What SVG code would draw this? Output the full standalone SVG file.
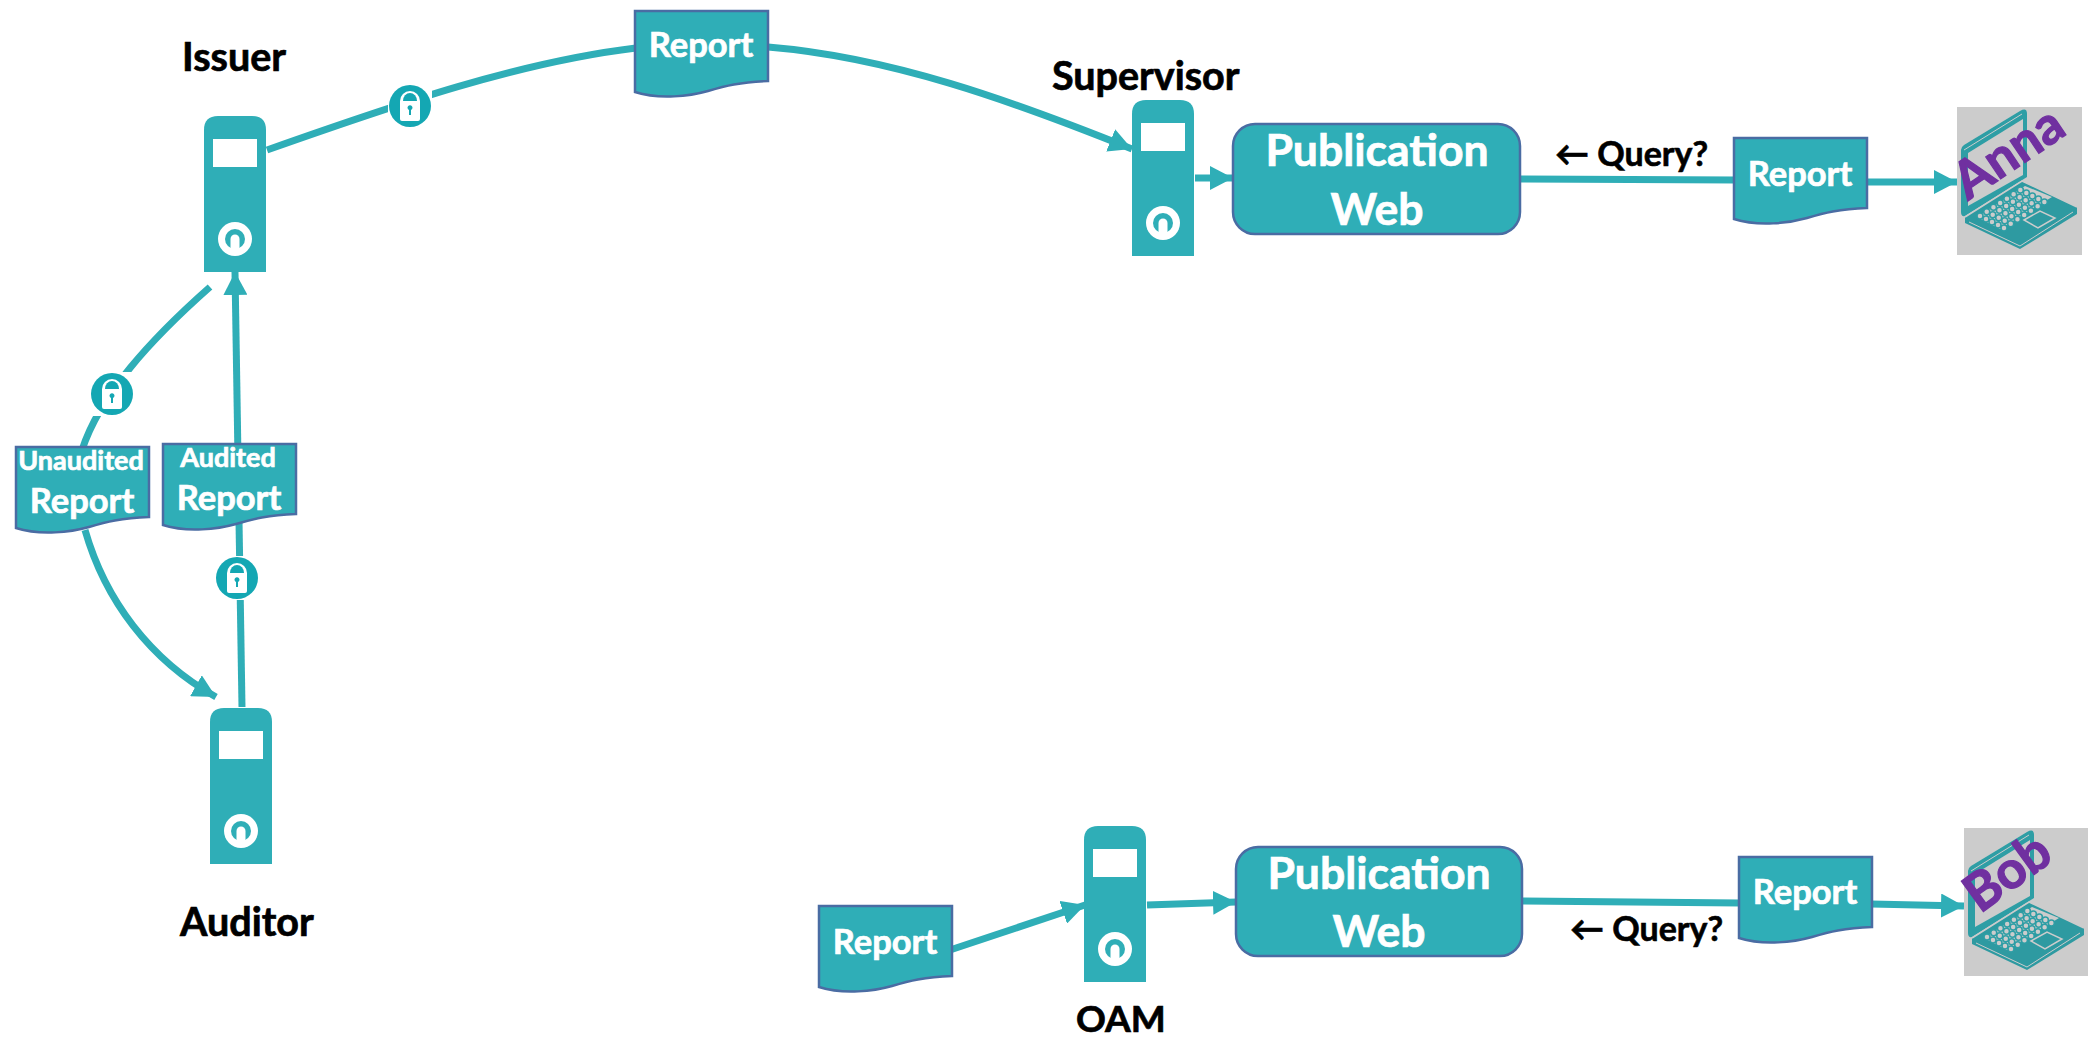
<svg xmlns="http://www.w3.org/2000/svg" width="2088" height="1045" viewBox="0 0 2088 1045">
<style>
text{font-family:Lato,"Open Sans","Liberation Sans",sans-serif;font-weight:700}
.lbl{font-size:39.500px;fill:#000;stroke:#000;stroke-width:.7}
.q{font-size:34px;fill:#000;stroke:#000;stroke-width:.6}
.w{fill:#fff;stroke:#fff;stroke-width:.7;text-anchor:middle}
.pub{font-size:44.500px}
.rep{font-size:34.500px}
.sm{font-size:27px}
.c{fill:none;stroke:#2FAEB7;stroke-width:7}
.doc{fill:#2FAEB7;stroke:#4A6CA3;stroke-width:2.500}
.t{fill:#2FAEB7}
.name{fill:#7030A0;stroke:#7030A0;stroke-width:1.200;font-size:52px}
</style>
<defs>
<marker id="a" markerUnits="userSpaceOnUse" markerWidth="24" markerHeight="24" refX="23" refY="12" orient="auto"><path d="M0,0L23,12L0,24Z" fill="#2FAEB7"/></marker>
<g id="server"><path class="t" d="M0,156V14Q0,0 14,0H48Q62,0 62,14V156Z"/><rect x="9" y="23" width="44" height="28" fill="#fff"/><circle cx="31" cy="123" r="17" fill="#fff"/><circle cx="31" cy="123" r="10" fill="#2FAEB7"/><path d="M26,123V139H36V123A5,5 0 0 0 26,123Z" fill="#fff" transform="translate(3.100 12.300) scale(.9)"/></g>
<path id="docp" class="doc" d="M0,0H133V70C105,71 90,75 73,80C55,85 25,89 0,81Z"/>
<g id="lock"><rect x="-22" y="-22" width="44" height="44" fill="#fff"/><circle r="21" fill="#14A7B3"/><path d="M-10,13V-5A10,10 0 0 1 10,-5V13Q10,15 8,15H-8Q-10,15 -10,13Z" fill="#fff"/><path d="M-7,-5A7,8 0 0 1 7,-5Z" fill="#14A7B3"/><path d="M-1,4A2.500,2.500 0 1 1 1,4V9H-1Z" fill="#14A7B3"/></g>
<g id="laptop">
<rect x="17" y="17" width="125" height="148" fill="#CCCCCC"/>
<path d="M21,60Q21,57 24,55L80,21Q87,17 87,24V87L25,126Q21,127 21,122Z" fill="#2E9EA5"/>
<path d="M24,60L82,24" fill="none" stroke="#CCCCCC" stroke-width="1"/>
<path d="M28,63L83,29V85L28,116Z" fill="#CCCCCC"/>
<path d="M25,127L82,91L137,117V124L80,159L25,133Z" fill="#2E9AA1"/>
<path d="M25,127L82,91L137,117" fill="none" stroke="#CCCCCC" stroke-width="1.500"/>
<path d="M37,127L85,96L112,107L60,139Z" fill="#CCCCCC"/>
<g fill="none" stroke-linecap="round" stroke-dasharray="0 8">
<g stroke="#2E9EA5" stroke-width="7.500"><path d="M40,126L85,97M46,129L91,100M52,132L97,103M58,135L103,106M64,138L109,109"/></g>
<g stroke="#CCCCCC" stroke-width="4.500"><path d="M40,126L85,97M46,129L91,100M52,132L97,103M58,135L103,106M64,138L109,109"/></g>
</g>
<path d="M84,130L100,121L115,128L98,138Z" fill="#2E9AA1" stroke="#CCCCCC" stroke-width="1.500"/>
<path d="M29,132L80,156L133,122" fill="none" stroke="#CCCCCC" stroke-width="1"/>
</g>
</defs>

<g id="connectors">
<path class="c" d="M267,150C400,103 520,62 636,48"/>
<path class="c" d="M768,47C890,57 1010,100 1132,149" marker-end="url(#a)"/>
<path class="c" d="M210,287C150,340 100,395 82,450"/>
<path class="c" d="M85,530C105,600 150,660 216,697" marker-end="url(#a)"/>
<path class="c" d="M242,707L235,272" marker-end="url(#a)"/>
<path class="c" d="M1195,178L1233,178" marker-end="url(#a)"/>
<path class="c" d="M1520,179L1736,180"/>
<path class="c" d="M1866,182L1957,182" marker-end="url(#a)"/>
<path class="c" d="M950,950L1085,905" marker-end="url(#a)"/>
<path class="c" d="M1147,905L1236,902" marker-end="url(#a)"/>
<path class="c" d="M1522,901L1740,903"/>
<path class="c" d="M1871,904L1964,906" marker-end="url(#a)"/>
</g>

<g id="lock1"><use href="#lock" x="410" y="106"/></g>
<g id="lock2"><use href="#lock" x="112" y="394"/></g>
<g id="lock3"><use href="#lock" x="237" y="578"/></g>

<g id="issuer"><use href="#server" x="204" y="116"/><text class="lbl" x="182" y="71">Issuer</text></g>
<g id="supervisor"><use href="#server" x="1132" y="100"/><text class="lbl" x="1052" y="90">Supervisor</text></g>
<g id="auditor"><use href="#server" x="210" y="708"/><text class="lbl" x="180" y="936">Auditor</text></g>
<g id="oam"><use href="#server" x="1084" y="826"/><text class="lbl" style="font-size:37px" x="1076" y="1032">OAM</text></g>

<g id="web1"><rect class="doc" x="1233" y="124" width="287" height="110" rx="22"/><text class="w pub" x="1377" y="166">Publication</text><text class="w pub" x="1377" y="225">Web</text></g>
<g id="web2"><rect class="doc" x="1236" y="847" width="286" height="109" rx="22"/><text class="w pub" x="1379" y="889">Publication</text><text class="w pub" x="1379" y="947">Web</text></g>

<g id="report-top"><use href="#docp" x="635" y="11"/><text class="w rep" x="701" y="57">Report</text></g>
<g id="report-unaudited"><use href="#docp" x="16" y="447"/><text class="w sm" x="81" y="470">Unaudited</text><text class="w rep" x="82" y="513">Report</text></g>
<g id="report-audited"><use href="#docp" x="163" y="444"/><text class="w sm" x="228" y="467">Audited</text><text class="w rep" x="229" y="510">Report</text></g>
<g id="report-anna"><use href="#docp" x="1734" y="138"/><text class="w rep" x="1800" y="186">Report</text></g>
<g id="report-oam"><use href="#docp" x="819" y="906"/><text class="w rep" x="885" y="954">Report</text></g>
<g id="report-bob"><use href="#docp" x="1739" y="857"/><text class="w rep" x="1805" y="904">Report</text></g>

<text class="q" x="1555" y="166">← Query?</text>
<text class="q" x="1570" y="941">← Query?</text>

<g id="anna"><use href="#laptop" x="1940" y="90"/><text class="name" transform="translate(1968,201) rotate(-34)">Anna</text></g>
<g id="bob"><use href="#laptop" x="1947" y="811"/><text class="name" transform="translate(1980,914) rotate(-36)">Bob</text></g>
</svg>
